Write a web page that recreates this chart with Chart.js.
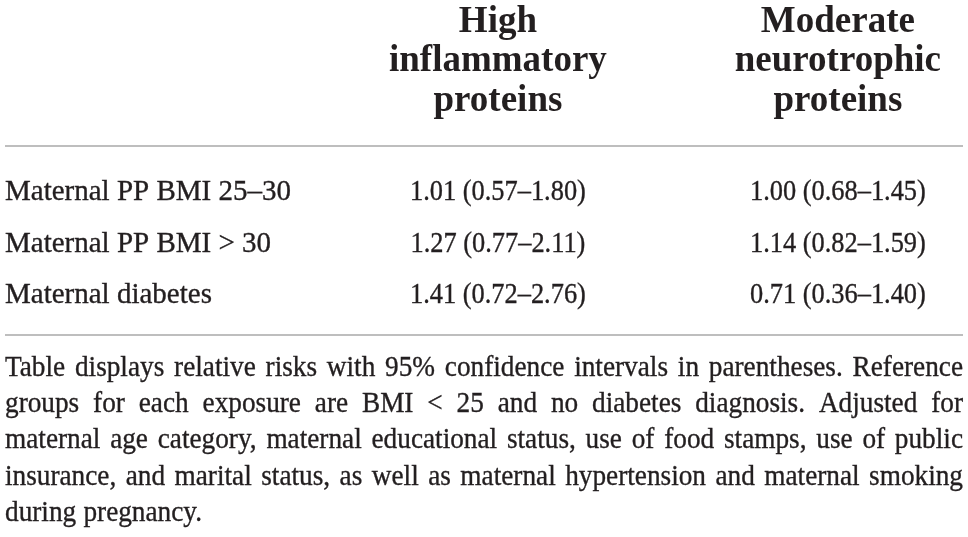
<!DOCTYPE html>
<html>
<head>
<meta charset="utf-8">
<script src="https://cdn.jsdelivr.net/npm/chart.js@4.4.0/dist/chart.umd.min.js"></script>
<style>
  html, body { margin: 0; padding: 0; background: #fff; }
  #wrap { width: 968px; height: 537px; position: relative; }
</style>
</head>
<body>
<div id="wrap"><canvas id="myChart"></canvas></div>
<script>
// table content
var columnHeaders = [
  ["High", "inflammatory", "proteins"],
  ["Moderate", "neurotrophic", "proteins"],
];
var rowLabels = ["Maternal PP BMI 25–30", "Maternal PP BMI > 30", "Maternal diabetes"];

// relative risk and 95% CI per exposure
var inflammatoryRR = [1.01, 1.27, 1.41];
var inflammatoryLo = [0.57, 0.77, 0.72];
var inflammatoryHi = [1.8, 2.11, 2.76];
var neurotrophicRR = [1.0, 1.14, 0.71];
var neurotrophicLo = [0.68, 0.82, 0.36];
var neurotrophicHi = [1.45, 1.59, 1.4];

var footnoteLines = [
  "Table displays relative risks with 95% confidence intervals in parentheses. Reference",
  "groups for each exposure are BMI < 25 and no diabetes diagnosis. Adjusted for",
  "maternal age category, maternal educational status, use of food stamps, use of public",
  "insurance, and marital status, as well as maternal hypertension and maternal smoking",
  "during pregnancy.",
];

var ink = "#231f20";
var headFont = "bold 37px 'Liberation Serif'";
var bodyFont = "29px 'Liberation Serif'";

function formatRR(rr, lo, hi) {
  return rr.map(function (v, i) {
    return v.toFixed(2) + " (" + lo[i].toFixed(2) + "–" + hi[i].toFixed(2) + ")";
  });
}

function drawText(ctx, text, x, y, align, font, sx, weight) {
  ctx.save();
  ctx.font = font;
  ctx.textAlign = align;
  ctx.textBaseline = "alphabetic";
  ctx.translate(x, y);
  ctx.scale(sx, 1);
  ctx.fillText(text, 0, 0);
  if (weight) {
    ctx.lineWidth = weight;
    ctx.strokeText(text, 0, 0);
  }
  ctx.restore();
}

function drawJustified(ctx, line, left, right, y, font, last) {
  ctx.save();
  ctx.font = font;
  var words = line.split(" ");
  var widths = words.map(function (w) { return ctx.measureText(w).width; });
  var sum = widths.reduce(function (a, b) { return a + b; }, 0);
  var space = ctx.measureText(" ").width;
  var sx = 0.94;
  var gap = space;
  if (!last && words.length > 1) {
    gap = (right - left - sum * sx) / (words.length - 1);
    if (gap < 6) {
      gap = 6;
      sx = (right - left - gap * (words.length - 1)) / sum;
    }
  }
  var x = left;
  words.forEach(function (w, i) {
    drawText(ctx, w, x, y, "left", font, sx, 0.35);
    x += widths[i] * sx + gap;
  });
  ctx.restore();
}

var tablePlugin = {
  id: "tableText",
  afterDatasetsDraw: function (chart) {
    var ctx = chart.ctx;
    var area = chart.chartArea;
    var xs = chart.scales.x;
    ctx.save();
    ctx.fillStyle = ink;

    // horizontal rules above and below the body
    ctx.strokeStyle = "#a8a8a8";
    ctx.lineWidth = 1.5;
    [area.top, area.bottom].forEach(function (y) {
      ctx.beginPath();
      ctx.moveTo(area.left, y);
      ctx.lineTo(area.right, y);
      ctx.stroke();
    });
    ctx.strokeStyle = ink;

    // column headers
    columnHeaders.forEach(function (lines, c) {
      var cx = xs.getPixelForValue(c + 1);
      lines.forEach(function (t, i) {
        drawText(ctx, t, cx, area.top - 114 + i * 39.3, "center", headFont, 1, 0);
      });
    });

    // cells
    chart.data.datasets.forEach(function (ds, d) {
      var meta = chart.getDatasetMeta(d);
      meta.data.forEach(function (pt, i) {
        if (ds.isLabel) {
          drawText(ctx, ds.cellText[i], area.left, pt.y, "left", bodyFont, 1.0, 0.35);
        } else {
          drawText(ctx, ds.cellText[i], pt.x, pt.y, "center", bodyFont, 0.91, 0.35);
        }
      });
    });

    // footnote
    footnoteLines.forEach(function (line, i) {
      drawJustified(ctx, line, area.left, area.right, area.bottom + 41 + i * 36.2, bodyFont,
        i === footnoteLines.length - 1);
    });
    ctx.restore();
  },
};

var ctx = document.getElementById("myChart").getContext("2d");
var myChart = new Chart(ctx, {
  type: "scatter",
  data: {
    datasets: [
      {
        label: "Exposure",
        isLabel: true,
        cellText: rowLabels,
        data: rowLabels.map(function (r, i) { return { x: 0, y: i }; }),
        pointRadius: 0,
      },
      {
        label: "High inflammatory proteins",
        cellText: formatRR(inflammatoryRR, inflammatoryLo, inflammatoryHi),
        data: inflammatoryRR.map(function (v, i) { return { x: 1, y: i }; }),
        pointRadius: 0,
      },
      {
        label: "Moderate neurotrophic proteins",
        cellText: formatRR(neurotrophicRR, neurotrophicLo, neurotrophicHi),
        data: neurotrophicRR.map(function (v, i) { return { x: 2, y: i }; }),
        pointRadius: 0,
      },
    ],
  },
  options: {
    responsive: true,
    maintainAspectRatio: false,
    animation: false,
    events: [],
    layout: {
      padding: { left: 5, right: 5, top: 146, bottom: 202 },
    },
    plugins: {
      legend: { display: false },
      tooltip: { enabled: false },
    },
    scales: {
      x: { type: "linear", display: false, min: -0.45, max: 2.368 },
      y: { type: "linear", display: false, reverse: true, min: -1.049, max: 2.621 },
    },
  },
  plugins: [tablePlugin],
});
</script>
</body>
</html>
